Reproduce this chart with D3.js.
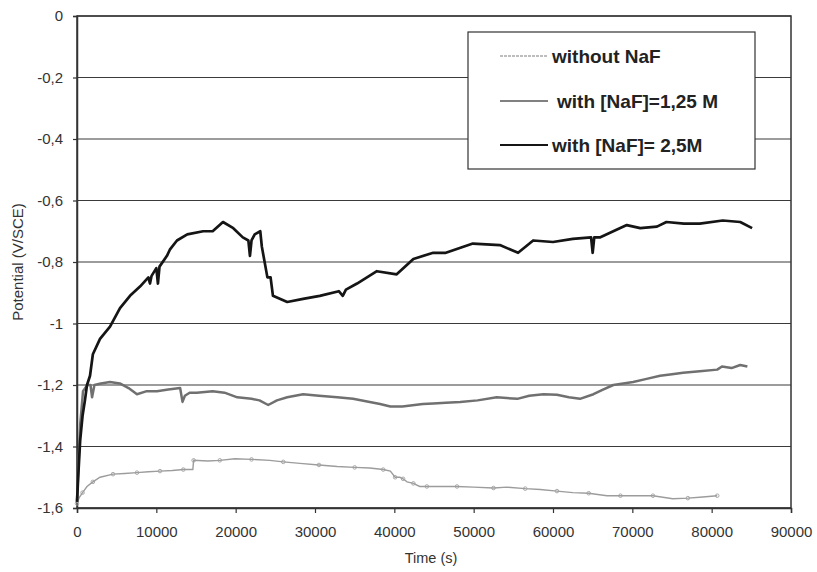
<!DOCTYPE html>
<html>
<head>
<meta charset="utf-8">
<script src="https://cdn.jsdelivr.net/npm/d3@7"></script>
<style>
  html, body { margin: 0; padding: 0; background: #fff; }
  svg { display: block; font-family: "Liberation Sans", Arial, sans-serif; }
</style>
</head>
<body>
<svg id="chart" width="817" height="572"></svg>
<script>
// ---- data ----
const xTicks = [0, 10000, 20000, 30000, 40000, 50000, 60000, 70000, 80000, 90000];
const yTicks = [0, -0.2, -0.4, -0.6, -0.8, -1, -1.2, -1.4, -1.6];
const seriesNames = ["without NaF", "with [NaF]=1,25 M", "with [NaF]= 2,5M"];

const t0 = [0, 300, 700, 1260, 2000, 2900, 4540, 6000, 7560, 9000, 10460, 12000, 13400, 14600, 14700, 16500, 18000, 19900, 22000, 24300, 26000, 28100, 30500, 32800, 35000, 36900, 38600, 39500, 40100, 40700, 41100, 41600, 42400, 43200, 44100, 45800, 47900, 50000, 52500, 54200, 56500, 58400, 60500, 62500, 64500, 66800, 68500, 70100, 72600, 75100, 77000, 78500, 80700];
const v0 = [-1.585, -1.565, -1.55, -1.53, -1.515, -1.50, -1.49, -1.488, -1.485, -1.482, -1.48, -1.478, -1.475, -1.475, -1.445, -1.447, -1.445, -1.44, -1.442, -1.445, -1.45, -1.455, -1.46, -1.465, -1.468, -1.47, -1.475, -1.48, -1.50, -1.50, -1.505, -1.515, -1.52, -1.53, -1.53, -1.53, -1.53, -1.532, -1.535, -1.532, -1.537, -1.54, -1.545, -1.55, -1.552, -1.56, -1.56, -1.56, -1.56, -1.57, -1.568, -1.565, -1.56];

const t1 = [0, 200, 400, 760, 1300, 1700, 1900, 2200, 3000, 4160, 5400, 6500, 7560, 8800, 10080, 11500, 13000, 13300, 13600, 14200, 15100, 17100, 18600, 20200, 22000, 23000, 24100, 25200, 26500, 28500, 30500, 32800, 34800, 36900, 38200, 39500, 41000, 43600, 44900, 46500, 48300, 50500, 52900, 55500, 57000, 58800, 60500, 62000, 63400, 65100, 66300, 67600, 70100, 71800, 73500, 75000, 76400, 78500, 80700, 81300, 82500, 83600, 84500];
const v1 = [-1.58, -1.45, -1.33, -1.22, -1.20, -1.20, -1.24, -1.20, -1.195, -1.19, -1.195, -1.21, -1.23, -1.22, -1.22, -1.215, -1.21, -1.255, -1.235, -1.225, -1.225, -1.22, -1.225, -1.24, -1.245, -1.25, -1.265, -1.25, -1.24, -1.23, -1.235, -1.24, -1.245, -1.255, -1.262, -1.27, -1.27, -1.262, -1.26, -1.258, -1.255, -1.25, -1.24, -1.245, -1.235, -1.23, -1.232, -1.24, -1.245, -1.23, -1.215, -1.20, -1.19, -1.18, -1.17, -1.165, -1.16, -1.155, -1.15, -1.14, -1.145, -1.135, -1.14];

const t2 = [0, 150, 400, 700, 1000, 1260, 1640, 2000, 2900, 4160, 5420, 6680, 7940, 9000, 9200, 9400, 10000, 10200, 10400, 11340, 11700, 12600, 13900, 15900, 17100, 18400, 19700, 20900, 21600, 21800, 22000, 22400, 23100, 23300, 24000, 24400, 24700, 26500, 28500, 30600, 33000, 33500, 33900, 35300, 37800, 40300, 42400, 44900, 46500, 49900, 53300, 55600, 57500, 60000, 62500, 64800, 65000, 65200, 65900, 67600, 69300, 71000, 73100, 74300, 76500, 78500, 81400, 83600, 85100];
const v2 = [-1.58, -1.50, -1.38, -1.30, -1.25, -1.20, -1.17, -1.10, -1.05, -1.01, -0.95, -0.91, -0.88, -0.85, -0.87, -0.845, -0.82, -0.87, -0.815, -0.78, -0.76, -0.73, -0.71, -0.70, -0.70, -0.67, -0.69, -0.72, -0.73, -0.78, -0.73, -0.71, -0.70, -0.75, -0.85, -0.85, -0.91, -0.93, -0.92, -0.91, -0.895, -0.91, -0.89, -0.87, -0.83, -0.84, -0.79, -0.77, -0.77, -0.74, -0.745, -0.77, -0.73, -0.735, -0.725, -0.72, -0.77, -0.72, -0.72, -0.70, -0.68, -0.69, -0.685, -0.67, -0.675, -0.675, -0.665, -0.67, -0.69];

// ---- layout ----
const svg = d3.select("#chart");
const L = 77, R = 791, T = 16, B = 508;
const x = d3.scaleLinear().domain([0, 90000]).range([L, R]);
const y = d3.scaleLinear().domain([-1.6, 0]).range([B, T]);
const fmt = v => (v === 0 ? "0" : String(v).replace(".", ","));

// gridlines
svg.append("g").selectAll("line").data(yTicks).join("line")
  .attr("x1", L).attr("x2", R)
  .attr("y1", d => y(d)).attr("y2", d => y(d))
  .attr("stroke", "#3a3a3a").attr("stroke-width", 1.2);

// plot frame
svg.append("rect").attr("x", L).attr("y", T).attr("width", R - L).attr("height", B - T)
  .attr("fill", "none").attr("stroke", "#333").attr("stroke-width", 1.5);

// axes
const yAxis = svg.append("g").attr("transform", `translate(${L},0)`)
  .call(d3.axisLeft(y).tickValues(yTicks).tickFormat(fmt).tickSize(4).tickPadding(10));
const xAxis = svg.append("g").attr("transform", `translate(0,${B})`)
  .call(d3.axisBottom(x).tickValues(xTicks).tickFormat(d => String(d)).tickSize(5).tickPadding(13));
[yAxis, xAxis].forEach(a => {
  a.select(".domain").attr("stroke", "#333").attr("stroke-width", 1.5);
  a.selectAll(".tick line").attr("stroke", "#333").attr("stroke-width", 1.2);
  a.selectAll("text").attr("fill", "#333").style("font-size", "15px")
    .style("font-family", '"Liberation Sans", Arial, sans-serif');
});

// axis titles
svg.append("text").attr("x", 431).attr("y", 563).attr("text-anchor", "middle")
  .attr("fill", "#333").style("font-size", "14.5px").text("Time (s)");
svg.append("text").attr("transform", "translate(23,262) rotate(-90)").attr("text-anchor", "middle")
  .attr("fill", "#333").style("font-size", "15px").text("Potential (V/SCE)");

// series lines
const line = (ts, vs) => d3.line().x((d, i) => x(ts[i])).y((d, i) => y(vs[i]))(ts);
svg.append("path").attr("d", line(t0, v0)).attr("fill", "none")
  .attr("stroke", "#9c9c9c").attr("stroke-width", 1.4);
svg.selectAll(".m0").data(t0.filter((d, i) => i % 2 === 0)).join("circle")
  .attr("cx", d => x(d)).attr("cy", d => y(v0[t0.indexOf(d)])).attr("r", 1.8)
  .attr("fill", "none").attr("stroke", "#a0a0a0").attr("stroke-width", 0.9);
svg.append("path").attr("d", line(t1, v1)).attr("fill", "none")
  .attr("stroke", "#707070").attr("stroke-width", 2.5).attr("stroke-linejoin", "round");
svg.append("path").attr("d", line(t2, v2)).attr("fill", "none")
  .attr("stroke", "#151515").attr("stroke-width", 2.7).attr("stroke-linejoin", "round");

// legend
const lg = svg.append("g");
lg.append("rect").attr("x", 468).attr("y", 32).attr("width", 287).attr("height", 137)
  .attr("fill", "#fff").attr("stroke", "#333").attr("stroke-width", 1.2);
const lgY = [56, 101, 145];
const lgStroke = ["#a8a8a8", "#808080", "#151515"];
const lgWidth = [1.4, 2, 2.2];
const lgTextX = [552, 557, 552];
seriesNames.forEach((n, i) => {
  lg.append("line").attr("x1", 500).attr("x2", 548).attr("y1", lgY[i]).attr("y2", lgY[i])
    .attr("stroke", lgStroke[i]).attr("stroke-width", lgWidth[i])
    .attr("stroke-dasharray", i === 0 ? "3,1" : null);
  lg.append("text").attr("x", lgTextX[i]).attr("y", lgY[i] + 7)
    .attr("fill", "#222").style("font-size", "19px").style("font-weight", "bold")
    .text(n);
});
</script>
</body>
</html>
